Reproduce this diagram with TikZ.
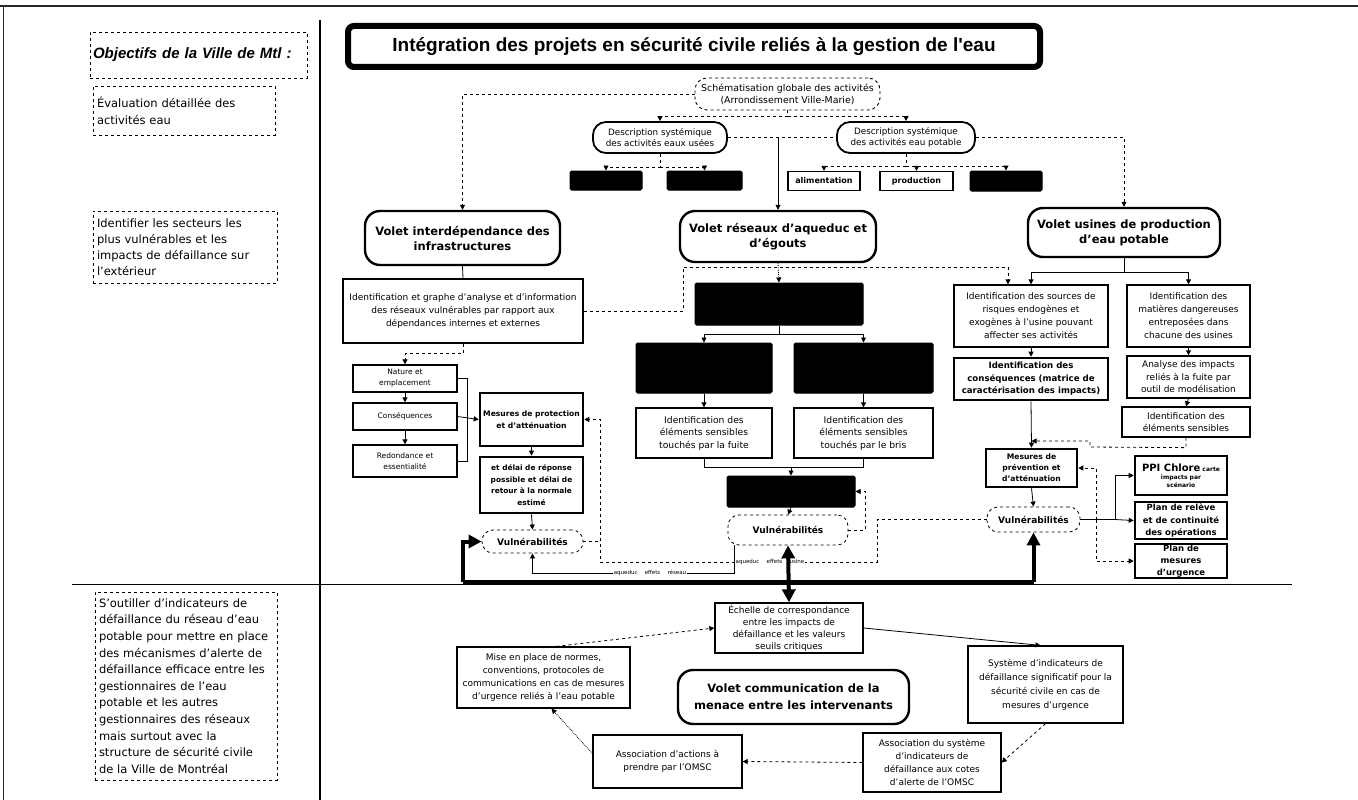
\documentclass[tikz,border=0pt]{standalone}
\usepackage{fontspec}
\setmainfont{DejaVu Sans}
\newfontfamily\titlefont{Liberation Sans}
\usetikzlibrary{arrows.meta,calc}
\newcommand\fsz[2]{\fontsize{#1}{#2}\selectfont}
\begin{document}
\begin{tikzpicture}[x=1pt,y=-1pt,
 box/.style={draw, line width=1.3pt, align=center, inner sep=1pt, font=\fsz{9}{12.5}},
 tbox/.style={box, line width=2.6pt},
 blk/.style={draw, fill=black, rounded corners=1.5pt, line width=1pt},
 volet/.style={draw, line width=2.4pt, rounded corners=15pt, align=center, font=\fsz{11.5}{15}\bfseries, inner sep=1pt},
 desc/.style={draw, line width=1.8pt, rounded corners=13pt, align=center, font=\fsz{8.8}{11.5}, inner sep=1pt},
 vuln/.style={draw, dashed, line width=0.8pt, rounded corners=11pt, font=\fsz{9}{10}\bfseries, inner sep=1pt},
 obj/.style={draw, dashed, line width=0.8pt, align=left, inner sep=4pt},
 ar/.style={line width=0.8pt, -{Triangle[length=5pt,width=5pt]}},
 dar/.style={ar, dashed},
 ln/.style={line width=0.8pt},
 dln/.style={ln, dashed},
 thk/.style={line width=4pt},
 big/.style={-{Triangle[length=13pt,width=13pt]}},
 lbl/.style={fill=white, inner sep=1pt, font=\fsz{5.5}{6}}
]
\useasboundingbox (0,0) rectangle (1358,800);
\fill[white] (0,0) rectangle (1358,800);
% frame
\coordinate (ftl) at (0,6);
\coordinate (ftr) at (1358,6);
\coordinate (fl) at (3,6);
\coordinate (flb) at (3,800);
\draw[line width=1.2pt, black!85] (ftl) -- (ftr);
\draw[line width=0.8pt, black!85] (fl) -- (flb);
\coordinate (vs1) at (320,20);
\coordinate (vs2) at (320,800);
\draw[line width=2.6pt] (vs1) -- (vs2);
\coordinate (hs1) at (72,584);
\coordinate (hs2) at (1292,584);
\draw[ln] (hs1) -- (hs2);

% left column
\node[obj, text width=211pt, inner sep=3pt, minimum height=46pt, font=\titlefont\fsz{15}{18}\bfseries\itshape] (objt) at (198.5,55) {Objectifs de la Ville de Mtl~:};
\node[obj, text width=174pt, minimum height=49pt, font=\fsz{11.5}{17}] (eval) at (184,110.5) {Évaluation détaillée des\\activités eau};
\node[obj, text width=176pt, minimum height=72pt, font=\fsz{11.5}{16}] (iden) at (185,247) {Identifier les secteurs les\\plus vulnérables et les\\impacts de défaillance sur\\l'extérieur};
\node[obj, text width=174pt, minimum height=188pt, font=\fsz{11.5}{16.6}] (outil) at (186,686) {S'outiller d'indicateurs de\\défaillance du réseau d'eau\\potable pour mettre en place\\des mécanismes d'alerte de\\défaillance efficace entre les\\gestionnaires de l'eau\\potable et les autres\\gestionnaires des réseaux\\mais surtout avec la\\structure de sécurité civile\\de la Ville de Montréal};

% title
\node[draw, line width=6pt, rounded corners=6pt, minimum width=692pt, minimum height=41pt, inner sep=0pt, font=\titlefont\fsz{19}{22}\bfseries] (title) at (694,46.5) {Intégration des projets en sécurité civile reliés à la gestion de l'eau};

% top tree
\node[draw, dashed, line width=0.9pt, rounded corners=12pt, minimum width=185pt, minimum height=32pt, align=center, inner sep=1pt, font=\fsz{9.4}{12}] (schem) at (787.5,94) {Schématisation globale des activités\\(Arrondissement Ville-Marie)};
\node[desc, minimum width=134pt, minimum height=31pt] (descU) at (660,137.5) {Description systémique\\des activités eaux usées};
\node[desc, minimum width=138pt, minimum height=31pt] (descP) at (906,137.5) {Description systémique\\des activités eau potable};
\node[blk, minimum width=72pt, minimum height=19pt] (bU1) at (606,180.5) {};
\node[blk, minimum width=75pt, minimum height=19pt] (bU2) at (704.5,180.5) {};
\node[box, minimum width=72pt, minimum height=19pt, font=\fsz{8}{9}\bfseries] (alim) at (824,181) {alimentation};
\node[box, minimum width=73pt, minimum height=19pt, font=\fsz{8}{9}\bfseries] (prod) at (916.5,181) {production};
\node[blk, minimum width=72pt, minimum height=20pt] (bP3) at (1006,181) {};

% volets
\node[volet, minimum width=195pt, minimum height=54pt] (voletI) at (462.5,238) {Volet interdépendance des\\infrastructures};
\node[volet, minimum width=196pt, minimum height=51pt] (voletR) at (778,236.5) {Volet réseaux d'aqueduc et\\d'égouts};
\node[volet, minimum width=192pt, minimum height=49pt] (voletU) at (1124,232.5) {Volet usines de production\\d'eau potable};

% left branch
\node[box, minimum width=240pt, minimum height=64pt, font=\fsz{9}{13}] (identG) at (463,311) {Identification et graphe d'analyse et d'information\\des réseaux vulnérables par rapport aux\\dépendances internes et externes};
\node[box, minimum width=104pt, minimum height=27pt, font=\fsz{7.5}{11}] (nature) at (405,378.5) {Nature et\\emplacement};
\node[box, minimum width=104pt, minimum height=27pt, font=\fsz{7.5}{11}] (cons) at (405,416.5) {Conséquences};
\node[box, minimum width=104pt, minimum height=32pt, font=\fsz{7.5}{11}] (retab) at (405,461) {Redondance et\\essentialité};
\node[tbox, minimum width=103pt, minimum height=53pt, font=\fsz{7.6}{12}\bfseries] (mesP) at (531.5,419.5) {Mesures de protection\\et d'atténuation};
\node[tbox, minimum width=103pt, minimum height=56pt, font=\fsz{7.4}{11.5}\bfseries] (delai) at (531.5,485) {et délai de réponse\\possible et délai de\\retour à la normale\\estimé};
\node[vuln, minimum width=101pt, minimum height=23pt] (vulnL) at (532.5,541.5) {Vulnérabilités};

% centre branch
\node[blk, minimum width=168pt, minimum height=42pt] (bC1) at (779,304) {};
\node[blk, minimum width=136pt, minimum height=50pt] (bC2L) at (704,368) {};
\node[blk, minimum width=139pt, minimum height=50pt] (bC2R) at (863.5,368) {};
\node[box, minimum width=136pt, minimum height=50pt, font=\fsz{9.2}{12.5}] (whL) at (704,433) {Identification des\\éléments sensibles\\touchés par la fuite};
\node[box, minimum width=139pt, minimum height=50pt, font=\fsz{9.2}{12.5}] (whR) at (863.5,433) {Identification des\\éléments sensibles\\touchés par le bris};
\node[blk, minimum width=128pt, minimum height=31pt] (bC3) at (791,491.5) {};
\node[vuln, minimum width=120pt, minimum height=30pt] (vulnC) at (788,530) {Vulnérabilités};

% right branch
\node[box, minimum width=154pt, minimum height=62pt, font=\fsz{9}{13}] (RA) at (1031,316) {Identification des sources de\\risques endogènes et\\exogènes à l'usine pouvant\\affecter ses activités};
\node[box, minimum width=123pt, minimum height=62pt, font=\fsz{9}{13}] (RB) at (1188.5,316) {Identification des\\matières dangereuses\\entreposées dans\\chacune des usines};
\node[tbox, minimum width=154pt, minimum height=42pt, font=\fsz{8.6}{12.5}\bfseries] (RC) at (1031,379) {Identification des\\conséquences (matrice de\\caractérisation des impacts)};
\node[box, minimum width=123pt, minimum height=42pt, font=\fsz{9}{12.5}] (RD) at (1188.5,377) {Analyse des impacts\\reliés à la fuite par\\outil de modélisation};
\node[box, minimum width=128pt, minimum height=30pt, font=\fsz{9}{12.5}] (RE) at (1186,422) {Identification des\\éléments sensibles};
\node[tbox, minimum width=91pt, minimum height=38pt, font=\fsz{7.6}{11}\bfseries] (mesR) at (1031.5,468) {Mesures de\\prévention et\\d'atténuation};
\node[vuln, minimum width=93pt, minimum height=25pt] (vulnR) at (1033.5,519.5) {Vulnérabilités};
\node[tbox, minimum width=92pt, minimum height=39pt, font=\fsz{6}{8}\bfseries] (PPI) at (1181,475.5) {{\fsz{10}{12}PPI Chlore} carte\\impacts par\\scénario};
\node[tbox, minimum width=92pt, minimum height=37pt, font=\fsz{8.5}{12.3}\bfseries] (planR) at (1181,520.5) {Plan de relève\\et de continuité\\des opérations};
\node[tbox, minimum width=92pt, minimum height=34pt, font=\fsz{8.5}{12}\bfseries] (PMU) at (1181,561) {Plan de\\mesures\\d'urgence};

% bottom
\node[box, minimum width=148pt, minimum height=50pt, font=\fsz{9}{12}] (ech) at (789,628) {Échelle de correspondance\\entre les impacts de\\défaillance et les valeurs\\seuils critiques};
\node[box, minimum width=173pt, minimum height=61pt, font=\fsz{9}{13}] (mise) at (543.5,677.5) {Mise en place de normes,\\conventions, protocoles de\\communications en cas de mesures\\d'urgence reliés à l'eau potable};
\node[volet, minimum width=231pt, minimum height=54pt, font=\fsz{11.5}{17}\bfseries] (vcom) at (793.5,697) {Volet communication de la\\menace entre les intervenants};
\node[box, minimum width=149pt, minimum height=53pt, font=\fsz{9}{13}] (assocA) at (667.5,761.5) {Association d'actions à\\prendre par l'OMSC};
\node[box, minimum width=138pt, minimum height=59pt, font=\fsz{9}{13}] (assocS) at (932,762.5) {Association du système\\d'indicateurs de\\défaillance aux cotes\\d'alerte de l'OMSC};
\node[box, minimum width=155pt, minimum height=77pt, font=\fsz{9}{14}] (sys) at (1045.5,684.5) {Système d'indicateurs de\\défaillance significatif pour la\\sécurité civile en cas de\\mesures d'urgence};

% ---- connectors: top
\draw[dar] (schem.south) -- ++(0,6) -| (descU.north);
\draw[dar] (schem.south) ++(0,6) -| (descP.north);
\draw[dln] (descU.east) -- (descP.west);
\draw[ar] (voletR.north |- descU.east) -- (voletR.north);
\draw[dar] (descP.east) -| (voletU.north);
\draw[dar] (schem.west) -| (voletI.north);
\draw[dar] (descU.south) -- ++(0,13) -| (bU1.north);
\draw[dar] (descU.south) ++(0,13) -| (bU2.north);
\draw[dar] (descP.south) -- ++(0,12) -| (alim.north);
\draw[dar] (descP.south) ++(0,12) -| (prod.north);
\draw[dar] (descP.south) ++(0,12) -| (bP3.north);

% left branch
\draw[ln] (voletI.south) -- (identG.north);
\draw[dar] (identG.south) -- ++(0,10) -| (nature.north);
\draw[ar] (nature.south) -- (cons.north);
\draw[ar] (cons.south) -- (retab.north);
\draw[ln] (nature.east) -- ++(10,0) |- (retab.east);
\draw[ar] (cons.east) -- (mesP.west);
\draw[ar] (mesP.south) -- (delai.north);
\draw[ar] (delai.south) -- (vulnL.north);
\coordinate (dv1) at (683,311);
\coordinate (dv2) at (683,267);
\coordinate (dv3) at (1008,267);
\draw[dar] (identG.east) -- (dv1) -- (dv2) -- (dv3) -- ([xshift=-23pt]RA.north);

% centre branch
\draw[ar, densely dotted] (voletR.south) -- (bC1.north);
\draw[ar] (bC1.south) -- ++(0,9) -| (bC2L.north);
\draw[ar] (bC1.south) ++(0,9) -| (bC2R.north);
\draw[ar] (bC2L.south) -- (whL.north);
\draw[ar] (bC2R.south) -- (whR.north);
\draw[ln] (whL.south) -- ++(0,9) -| (whR.south);
\draw[ar] (bC3.north) ++(0,-9) -- (bC3.north);
\draw[ar] (bC3.south) -- (vulnC.north);
\draw[dar] (vulnC.east) -- ++(17,0) |- (bC3.east);

% right branch
\draw[ar] (voletU.south) -- ++(0,14) -| (RB.north);
\draw[ar] (voletU.south) ++(0,14) -| (RA.north);
\draw[ar] (RA.south) -- (RC.north);
\draw[ar] (RB.south) -- (RD.north);
\draw[ar] (RD.south) -- (RE.north);
\draw[ar] (RC.south) -- (mesR.north);
\coordinate (re1) at (1090,447);
\coordinate (re2) at (1090,441);
\coordinate (re3) at (1031.5,441);
\draw[dar] (RE.south) -- ++(0,10) -- (re1) -- (re2) -- (re3);
\draw[ar] (mesR.south) -- (vulnR.north);
\coordinate (rj) at (1096,519.5);
\coordinate (rk) at (1115,519.5);
\draw[ln] (vulnR.east) -- (rj);
\draw[dar] (rj) |- (mesR.east);
\draw[dar] (rj) |- (PMU.west);
\draw[ar] (rj) -- (rk) |- (PPI.west);
\draw[ar] (rk) -- (planR.west);

% cross links
\coordinate (xa) at (877,519.5);
\coordinate (xb) at (877,562);
\coordinate (xc) at (600,562);
\draw[dar] (vulnR.west) -- (xa) -- (xb) -- (xc) |- (mesP.east);
\node[lbl] (lab1) at (770,562) {aqueduc \quad effets \quad usine};
\coordinate (xd) at (600,541.5);
\draw[dln] (vulnL.east) -- (xd);
\draw[ar] ([xshift=7pt]vulnC.south west) -- ++(0,28) -| (vulnL.south);
\node[lbl] (lab2) at (650,573) {aqueduc \quad effets \quad réseau};

% thick
\coordinate (tl) at (463,582);
\coordinate (tr) at (1033.5,582);
\draw[thk] (tl) -- (tr);
\draw[thk, big] (tl) |- (vulnL.west);
\draw[thk, big] (tr) -- (vulnR.south);
\draw[thk, {Triangle[length=13pt,width=13pt]}-{Triangle[length=13pt,width=13pt]}] (vulnC.south) -- (ech.north);

% bottom cycle
\draw[ar] (ech.east) -- ([xshift=-5pt]sys.north);
\draw[dar] (sys.south) -- (assocS.east);
\draw[dar] (assocS.west) -- (assocA.east);
\draw[ar, densely dotted] ([yshift=8pt]assocA.west) -- ([xshift=8pt]mise.south);
\draw[dar] ([xshift=13pt]mise.north) -- (ech.west);
\end{tikzpicture}
\end{document}
